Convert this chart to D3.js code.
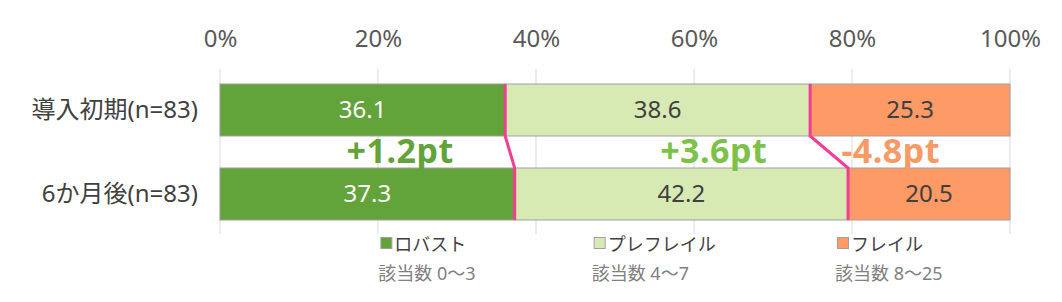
<!DOCTYPE html>
<html>
<head>
<meta charset="utf-8">
<script src="https://cdn.jsdelivr.net/npm/d3@7"></script>
<style>
body { margin: 0; background: #fff; }
text { font-family: "Noto Sans", "Noto Sans CJK JP", sans-serif; }
</style>
</head>
<body>
<script>
var w = 1062;
var h = 302;

// data
var categories = ["導入初期(n=83)", "6か月後(n=83)"];
var seriesNames = ["ロバスト", "プレフレイル", "フレイル"];
var seriesRanges = ["該当数 0～3", "該当数 4～7", "該当数 8～25"];
var robust = [36.1, 37.3];
var prefrail = [38.6, 42.2];
var frail = [25.3, 20.5];
var diffs = ["+1.2pt", "+3.6pt", "-4.8pt"];
var tickValues = [0, 20, 40, 60, 80, 100];

var colors = ["#62a33a", "#d8eab4", "#fe9a66"];
var diffColors = ["#62a33a", "#7dc248", "#f79a66"];
var labelColors = ["#ffffff", "#404040", "#404040"];
var diffAt = [22.8, 62.5, 84.9];   // where the change labels sit, in % units
var legendAt = [20.3, 47.3, 78.1];

var svg = d3.select("body")
    .append("svg")
    .attr("width", w)
    .attr("height", h);

var x = d3.scaleLinear().domain([0, 100]).range([220, 1010]);
var y = d3.scaleBand().domain(categories).range([84, 220]).paddingInner(0.381);

// gridlines
svg.selectAll("line.grid")
    .data(tickValues)
    .enter()
    .append("line")
    .attr("class", "grid")
    .attr("x1", function(d){ return x(d); })
    .attr("x2", function(d){ return x(d); })
    .attr("y1", 69)
    .attr("y2", 234)
    .attr("stroke", "#d9d9d9")
    .attr("stroke-width", 1);

// top axis
var axis = svg.append("g")
    .attr("transform", "translate(0,47)")
    .call(d3.axisTop(x).tickValues(tickValues).tickSize(0).tickPadding(0)
        .tickFormat(function(d){ return d + "%"; }));
axis.select(".domain").remove();
axis.selectAll("text")
    .attr("font-size", 24)
    .attr("fill", "#595959")
    .style("font-family", '"Noto Sans", "Noto Sans CJK JP", sans-serif');

// stack
var rows = categories.map(function(c, i){
    return { cat: c, vals: [robust[i], prefrail[i], frail[i]] };
});
rows.forEach(function(r){
    var acc = 0;
    r.segs = r.vals.map(function(v, k){
        var s = { k: k, v: v, x0: acc, x1: acc + v };
        acc += v;
        return s;
    });
});

var rowG = svg.selectAll("g.row")
    .data(rows)
    .enter()
    .append("g")
    .attr("class", "row");

rowG.selectAll("rect")
    .data(function(d){ return d.segs.map(function(s){ s.cat = d.cat; return s; }); })
    .enter()
    .append("rect")
    .attr("x", function(d){ return x(d.x0); })
    .attr("y", function(d){ return y(d.cat); })
    .attr("width", function(d){ return x(d.x1) - x(d.x0); })
    .attr("height", y.bandwidth())
    .attr("fill", function(d){ return colors[d.k]; })
    .attr("stroke", "#a0a0a0")
    .attr("stroke-width", 1);

rowG.selectAll("text.val")
    .data(function(d){ return d.segs; })
    .enter()
    .append("text")
    .attr("class", "val")
    .attr("x", function(d){ return (x(d.x0) + x(d.x1)) / 2; })
    .attr("y", function(d){ return y(d.cat) + y.bandwidth() / 2; })
    .attr("dy", "0.35em")
    .attr("text-anchor", "middle")
    .attr("font-size", 24)
    .attr("fill", function(d){ return labelColors[d.k]; })
    .text(function(d){ return d.v.toFixed(1); });

// category labels
svg.selectAll("text.cat")
    .data(categories)
    .enter()
    .append("text")
    .attr("class", "cat")
    .attr("x", 198)
    .attr("y", function(d){ return y(d) + y.bandwidth() / 2; })
    .attr("dy", "0.35em")
    .attr("text-anchor", "end")
    .attr("font-size", 24)
    .attr("fill", "#404040")
    .text(function(d){ return d; });

// pink connector lines at the boundaries
var bounds = [0, 1].map(function(k){
    return rows.map(function(r){ return r.segs[k].x1; });
});
var line = d3.line();
svg.selectAll("path.conn")
    .data(bounds)
    .enter()
    .append("path")
    .attr("class", "conn")
    .attr("d", function(b){
        var y0 = y(categories[0]), y1 = y0 + y.bandwidth();
        var y2 = y(categories[1]), y3 = y2 + y.bandwidth();
        return line([[x(b[0]), y0], [x(b[0]), y1], [x(b[1]), y2], [x(b[1]), y3]]);
    })
    .attr("fill", "none")
    .attr("stroke", "#f23c96")
    .attr("stroke-width", 3);

// change labels
svg.selectAll("text.diff")
    .data(diffs)
    .enter()
    .append("text")
    .attr("class", "diff")
    .attr("x", function(d, i){ return x(diffAt[i]); })
    .attr("y", 163)
    .attr("text-anchor", "middle")
    .attr("font-size", 34)
    .attr("font-weight", "bold")
    .attr("letter-spacing", 0.5)
    .attr("fill", function(d, i){ return diffColors[i]; })
    .text(function(d){ return d; });

// legend
var leg = svg.selectAll("g.leg")
    .data(seriesNames)
    .enter()
    .append("g")
    .attr("class", "leg")
    .attr("transform", function(d, i){ return "translate(" + x(legendAt[i]) + ",0)"; });
leg.append("rect")
    .attr("x", 0.5)
    .attr("y", 237.5)
    .attr("width", 11)
    .attr("height", 11)
    .attr("fill", function(d, i){ return colors[i]; })
    .attr("stroke", "#a0a0a0");
leg.append("text")
    .attr("x", 14)
    .attr("y", 245)
    .attr("dy", "0.35em")
    .attr("font-size", 18)
    .attr("fill", "#404040")
    .text(function(d){ return d; });
leg.append("text")
    .attr("x", -2)
    .attr("y", 274)
    .attr("dy", "0.35em")
    .attr("font-size", 18)
    .attr("fill", "#7f7f7f")
    .text(function(d, i){ return seriesRanges[i]; });
</script>
</body>
</html>
